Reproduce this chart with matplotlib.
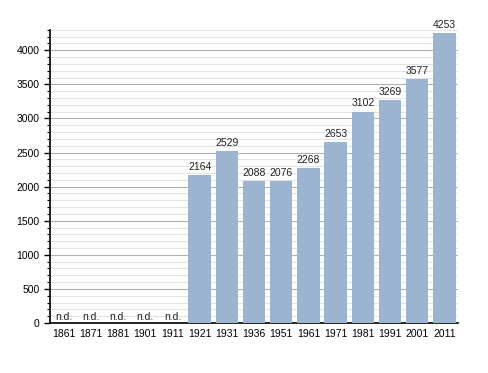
import matplotlib.pyplot as plt
import numpy as np
from matplotlib.ticker import MultipleLocator

plt.rcParams['font.family'] = ['Liberation Sans', 'DejaVu Sans']

anni = ['1861', '1871', '1881', '1901', '1911', '1921', '1931', '1936',
        '1951', '1961', '1971', '1981', '1991', '2001', '2011']
abitanti = [None, None, None, None, None, 2164, 2529, 2088,
            2076, 2268, 2653, 3102, 3269, 3577, 4253]

fig = plt.figure(figsize=(4.88, 3.73), dpi=100)
ax = fig.add_axes([0.1025, 0.134, 0.836, 0.786])

x = np.arange(len(anni))
for i, v in enumerate(abitanti):
    if v is None:
        ax.text(x[i], 20, 'n.d.', ha='center', va='bottom', fontsize=7.5, color='#222222')
    else:
        ax.bar(x[i], v, width=0.82, color='#9bb4cf', zorder=3)
        ax.text(x[i], v + 45, str(v), ha='center', va='bottom', fontsize=7.5, color='#222222')

ax.set_xlim(-0.5, len(anni) - 0.5)
ax.set_ylim(0, 4300)
ax.set_xticks(x)
ax.set_xticklabels(anni, fontsize=7.5)
ax.yaxis.set_major_locator(MultipleLocator(500))
ax.yaxis.set_minor_locator(MultipleLocator(100))
ax.tick_params(axis='y', labelsize=7.5, direction='out', length=4, width=1)
ax.tick_params(axis='y', which='minor', length=2, width=0.8)
ax.tick_params(axis='x', length=0, pad=4)

ax.grid(axis='y', which='major', color='#b0b0b0', linewidth=0.8, zorder=0)
ax.grid(axis='y', which='minor', color='#e4e4e4', linewidth=0.8, zorder=0)

for s in ['top', 'right']:
    ax.spines[s].set_visible(False)
ax.spines['left'].set_linewidth(1.2)
ax.spines['bottom'].set_linewidth(1.2)

fig.savefig('out.png', dpi=100)
